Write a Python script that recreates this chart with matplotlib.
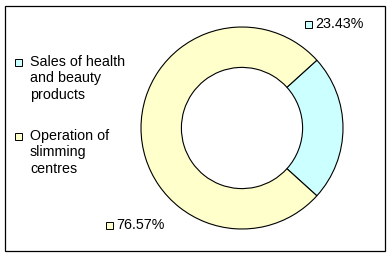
import matplotlib.pyplot as plt
from matplotlib.patches import Rectangle

categories = ["Sales of health\nand beauty\nproducts", "Operation of\nslimming\ncentres"]
shares = [23.43, 76.57]
colors = ["#CCFFFF", "#FFFFCC"]

plt.rcParams['font.family'] = ['Liberation Sans', 'DejaVu Sans']

fig = plt.figure(figsize=(3.92, 2.59), dpi=100)

# pie axes (centre ~ (242,128) px, radius ~102 px)
pax = fig.add_axes([140 / 392, 1 - 230 / 259, 204 / 392, 204 / 259])
pax.pie(shares, colors=colors, startangle=shares[0] * 3.6 / 2, counterclock=False,
        radius=1.0, wedgeprops=dict(width=0.4, edgecolor="black", linewidth=0.8))
pax.set_xlim(-1.01, 1.01)
pax.set_ylim(-1.01, 1.01)
pax.set_aspect("equal")

# overlay in pixel coordinates
ax = fig.add_axes([0, 0, 1, 1], zorder=-1)
ax.set_xlim(0, 392)
ax.set_ylim(259, 0)
ax.axis("off")
ax.add_patch(Rectangle((5.5, 5.5), 380, 245, fill=False, edgecolor="black", linewidth=0.9))

fs = 10.3

def square(x, y, c):
    ax.add_patch(Rectangle((x, y - 3.5), 7, 7, facecolor=c, edgecolor="black", linewidth=0.7))

# legend
for (lab, c, y) in zip(categories, colors, [62, 136]):
    square(15, y, c)
    ax.text(30, y - 7, lab, fontsize=fs, va="top", ha="left", linespacing=1.22)

# data labels
labels = ["%.2f%%" % s for s in shares]
square(305, 24, colors[0])
ax.text(315, 24, labels[0], fontsize=fs, va="center", ha="left")
square(106, 225, colors[1])
ax.text(116, 225, labels[1], fontsize=fs, va="center", ha="left")

fig.savefig("out.png", dpi=100)
